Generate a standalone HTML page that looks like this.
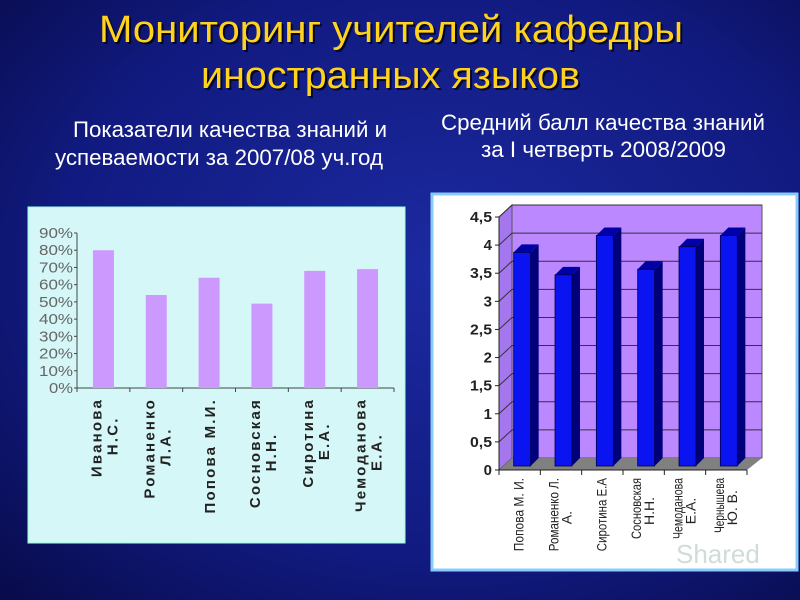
<!DOCTYPE html>
<html><head><meta charset="utf-8"><style>
body{margin:0;width:800px;height:600px;overflow:hidden;background:#0c0c70}
svg{display:block}
</style></head><body>
<svg width="800" height="600" viewBox="0 0 800 600" xmlns="http://www.w3.org/2000/svg">
<defs>
<radialGradient id="bg" cx="0.55" cy="0.45" r="0.8">
<stop offset="0" stop-color="#1c2aa0"/><stop offset="0.6" stop-color="#111a80"/><stop offset="1" stop-color="#070a45"/>
</radialGradient>
</defs>
<rect width="800" height="600" fill="url(#bg)"/>
<g font-family="'Liberation Sans Narrow','Liberation Sans',sans-serif">
<text x="99" y="42" textLength="584" lengthAdjust="spacingAndGlyphs" font-size="38" fill="#000" opacity="0.7" transform="translate(2,2)">Мониторинг учителей кафедры</text>
<text x="99" y="42" textLength="584" lengthAdjust="spacingAndGlyphs" font-size="38" fill="#ffd21f">Мониторинг учителей кафедры</text>
<text x="201" y="88" textLength="379" lengthAdjust="spacingAndGlyphs" font-size="38" fill="#000" opacity="0.7" transform="translate(2,2)">иностранных языков</text>
<text x="201" y="88" textLength="379" lengthAdjust="spacingAndGlyphs" font-size="38" fill="#ffd21f">иностранных языков</text>
<text x="73" y="137" textLength="314" lengthAdjust="spacingAndGlyphs" font-size="22" fill="#fff">Показатели качества знаний и</text>
<text x="55" y="165" textLength="328" lengthAdjust="spacingAndGlyphs" font-size="22" fill="#fff">успеваемости за 2007/08 уч.год</text>
<text x="441" y="130" textLength="324" lengthAdjust="spacingAndGlyphs" font-size="22" fill="#fff">Средний балл качества знаний</text>
<text x="481" y="157" textLength="245" lengthAdjust="spacingAndGlyphs" font-size="22" fill="#fff">за I четверть 2008/2009</text>
</g>
<rect x="28" y="207" width="377" height="336" fill="#d6f7f7" stroke="#9fd" stroke-width="1"/>
<g id="left"></g>
<rect x="432" y="194" width="365" height="376" fill="#fff" stroke="#8cf" stroke-width="3"/>
<g id="right"></g>
<text x="676" y="563" font-family="'Liberation Sans',sans-serif" font-size="26" fill="#c8d8d0" opacity="0.85">Shared</text>
</svg>
<script>
const leftCats=[["Иванова","Н.С."],["Романенко","Л.А."],["Попова М.И."],["Сосновская","Н.Н."],["Сиротина","Е.А."],["Чемоданова","Е.А."]];
const leftVals=[80,54,64,49,68,69];
const leftTicks=[0,10,20,30,40,50,60,70,80,90];
const rightCats=[["Попова М. И."],["Романенко Л.","А."],["Сиротина Е.А"],["Сосновская","Н.Н."],["Чемоданова","Е.А."],["Чернышева","Ю. В."]];
const rightVals=[3.8,3.4,4.1,3.5,3.9,4.1];
const rightTicks=[0,0.5,1,1.5,2,2.5,3,3.5,4,4.5];
const NS="http://www.w3.org/2000/svg";
function mk(p,t,a){const e=document.createElementNS(NS,t);for(const k in a)e.setAttribute(k,a[k]);p.appendChild(e);return e;}
// left
(function(){
const g=document.getElementById('left');
const x0=77,x1=394,y0=388,y90=233;
const y=v=>y0-(v/90)*(y0-y90);
const cw=(x1-x0)/leftVals.length;
mk(g,'line',{x1:x0,y1:y90,x2:x0,y2:y0,stroke:'#444'});
mk(g,'line',{x1:x0,y1:y0,x2:x1,y2:y0,stroke:'#444'});
leftTicks.forEach(t=>{
 mk(g,'line',{x1:x0-3,y1:y(t),x2:x0,y2:y(t),stroke:'#444'});
 const tx=mk(g,'text',{x:x0-4,y:y(t)+5,'text-anchor':'end','font-family':'Liberation Sans,sans-serif','font-size':15,'textLength':34,'lengthAdjust':'spacingAndGlyphs',fill:'#666'});
 tx.textContent=t+'%';
 if(t===0){tx.setAttribute('textLength',24);}
 
 
});
for(let i=0;i<=leftVals.length;i++)mk(g,'line',{x1:x0+i*cw,y1:y0,x2:x0+i*cw,y2:y0+4,stroke:'#444'});
leftVals.forEach((v,i)=>{
 const cx=x0+(i+0.5)*cw;
 const r=mk(g,'rect',{x:cx-10.5,y:y(v),width:21,height:y0-y(v),fill:'#cc99ff'});
 
 
 const lines=leftCats[i];
 lines.forEach((s,j)=>{
  const off=(j-(lines.length-1)/2)*16;
  const tx=mk(g,'text',{transform:`translate(${cx+off+6},${y0+10}) rotate(-90)`,'text-anchor':lines.length>1&&j>0?'middle':'end','font-family':'Liberation Sans,sans-serif','font-size':15,'font-weight':'bold','letter-spacing':'2.2',fill:'#222'});
  if(lines.length>1&&j>0){tx.setAttribute('transform',`translate(${cx+off+6},${y0+10+lines[0].length*5.4}) rotate(-90)`);}
  tx.textContent=s;
  
  
 });
});
})();
// right
(function(){
const g=document.getElementById('right');
const x0=499,x1=747,y0=470,yt=217,dx=13,dy=-12;
const y=v=>y0-(v/4.5)*(y0-yt);
const cw=(x1-x0)/rightVals.length;
mk(g,'polygon',{points:`${x0+dx},${yt+dy} ${x1+dx+2},${yt+dy} ${x1+dx+2},${y0+dy} ${x0+dx},${y0+dy}`,fill:'#bb88ff',stroke:'#555'});
mk(g,'polygon',{points:`${x0},${yt} ${x0+dx},${yt+dy} ${x0+dx},${y0+dy} ${x0},${y0}`,fill:'#a577ee',stroke:'#555'});
mk(g,'polygon',{points:`${x0},${y0} ${x0+dx},${y0+dy} ${x1+dx+2},${y0+dy} ${x1},${y0}`,fill:'#808080'});
rightTicks.forEach(t=>{
 if(t>0)mk(g,'polyline',{points:`${x0},${y(t)} ${x0+dx},${y(t)+dy} ${x1+dx+2},${y(t)+dy}`,fill:'none',stroke:'#333','stroke-width':1});
 mk(g,'line',{x1:x0-4,y1:y(t),x2:x0,y2:y(t),stroke:'#222'});
 const tx=mk(g,'text',{x:x0-7,y:y(t)+5,'text-anchor':'end','font-family':'Liberation Sans,sans-serif','font-size':15,'font-weight':'bold',fill:'#222'});
 tx.textContent=String(t).replace('.',',');
 if(String(t).length>1){tx.setAttribute('textLength',22);tx.setAttribute('lengthAdjust','spacingAndGlyphs');}
 
 
});
mk(g,'line',{x1:x0,y1:yt,x2:x0,y2:y0,stroke:'#222'});
mk(g,'line',{x1:x0,y1:y0,x2:x1,y2:y0,stroke:'#222'});
for(let i=0;i<=rightVals.length;i++)mk(g,'line',{x1:x0+i*cw,y1:y0,x2:x0+i*cw,y2:y0+5,stroke:'#222'});
rightVals.forEach((v,i)=>{
 const cx=x0+(i+0.5)*cw, bx=cx-6, w=17, bd=8, by=y0-4, top=y(v)-4;
 const s=mk(g,'polygon',{points:`${bx+w},${top} ${bx+w+bd},${top-bd} ${bx+w+bd},${by-bd} ${bx+w},${by}`,fill:'#00007a'});
 
 
 const tp=mk(g,'polygon',{points:`${bx},${top} ${bx+bd},${top-bd} ${bx+w+bd},${top-bd} ${bx+w},${top}`,fill:'#0000a8'});
 
 
 const r=mk(g,'rect',{x:bx,y:top,width:w,height:by-top,fill:'#0a14f0',stroke:'#000044','stroke-width':0.8});
 
 
 const lines=rightCats[i];
 lines.forEach((s2,j)=>{
  const off=(j-(lines.length-1)/2)*13;
  const tx=mk(g,'text',{transform:`translate(${cx+off+4},${y0+8}) rotate(-90)`,'text-anchor':lines.length>1&&j>0?'middle':'end','font-family':'Liberation Sans,sans-serif','font-size':14,fill:'#222'});
  if(lines.length>1&&j>0){tx.setAttribute('transform',`translate(${cx+off+4},${y0+8+lines[0].length*3.3}) rotate(-90)`);}
  else {tx.setAttribute('textLength',lines[0].length*6.1);tx.setAttribute('lengthAdjust','spacingAndGlyphs');}
  tx.textContent=s2;
  
  
 });
});
})();
</script>
</body></html>
